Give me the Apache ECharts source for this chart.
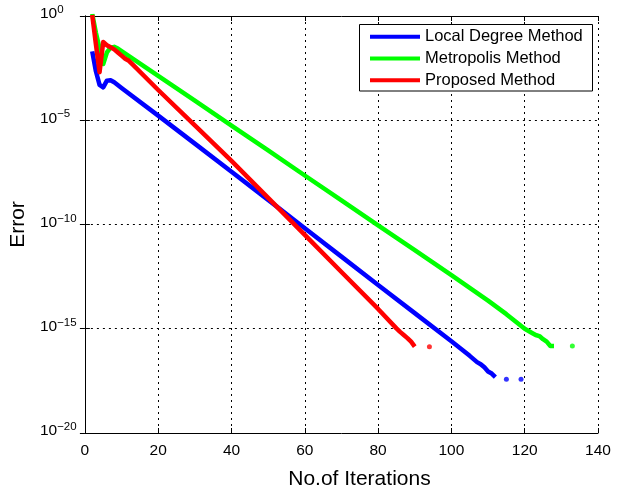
<!DOCTYPE html>
<html>
<head>
<meta charset="utf-8">
<script src="https://cdn.jsdelivr.net/npm/echarts@6/dist/echarts.min.js"></script>
<style>
html,body{margin:0;padding:0;background:#fff;}
#c{width:619px;height:496px;}
</style>
</head>
<body>
<div id="c"></div>
<script>
// ---- data (values are log10 of the error) ----
const seriesNames = ['Local Degree Method', 'Metropolis Method', 'Proposed Method'];
const xTicks = [0, 20, 40, 60, 80, 100, 120, 140];
const yTickExps = [0, -5, -10, -15, -20];

const localIter = [2,3,4,5,6,7,8,10,20,30,40,50,60,70,80,90,100,105,107,108,109,110,111,112];
const localExp  = [-1.7,-2.65,-3.3,-3.42,-3.1,-3.08,-3.18,-3.45,-4.78,-6.12,-7.47,-8.82,-10.18,-11.54,-12.9,-14.25,-15.6,-16.3,-16.6,-16.7,-16.85,-17.05,-17.15,-17.32];
const localDotIter = [115, 119];
const localDotExp  = [-17.42, -17.42];

const metroIter = [2,3,4,5,6,7,8,9,10,20,30,40,50,60,70,80,90,100,110,115,120,122,123,124,125,126,127,128];
const metroExp  = [0.1,-0.8,-1.55,-2.3,-1.75,-1.52,-1.48,-1.56,-1.68,-2.87,-4.06,-5.26,-6.45,-7.65,-8.84,-10.04,-11.23,-12.43,-13.65,-14.3,-15.0,-15.2,-15.3,-15.35,-15.5,-15.62,-15.83,-15.83];
const metroDotIter = [133];
const metroDotExp  = [-15.83];

const propIter = [2,3,4,5,6,7,8,9,10,11,12,13,20,30,40,50,60,70,80,85,86,87,88,89,90];
const propExp  = [0.05,-1.35,-2.7,-1.25,-1.4,-1.5,-1.6,-1.75,-1.9,-2.05,-2.15,-2.32,-3.55,-5.25,-6.95,-8.72,-10.5,-12.28,-14.05,-14.98,-15.15,-15.3,-15.45,-15.62,-15.86];
const propDotIter = [94];
const propDotExp  = [-15.86];

const colors = ['#0000ff', '#00ff00', '#ff0000'];
// ---------------------------------------------------------------

function pairs(xs, es) { return xs.map((x, i) => [x, Math.pow(10, es[i])]); }

const FONT = '"Liberation Sans", Arial, Helvetica, sans-serif';
const dashed = { type: [2, 4], color: '#000', width: 1 };

function lineSeries(name, xs, es, color) {
  return {
    name: name, type: 'line', data: pairs(xs, es),
    showSymbol: false, symbol: 'none', clip: true,
    lineStyle: { color: color, width: 4.5, cap: 'butt', join: 'round' },
    itemStyle: { color: color }, z: 3
  };
}
function dotSeries(name, xs, es, color) {
  return {
    name: name + ' ', type: 'scatter', data: pairs(xs, es),
    symbol: 'circle', symbolSize: 5, itemStyle: { color: color }, z: 3
  };
}

const chart = echarts.init(document.getElementById('c'), null, { renderer: 'canvas' });
chart.setOption({
  animation: false,
  backgroundColor: '#fff',
  textStyle: { fontFamily: FONT },
  grid: { left: 80, top: 16, right: 21, bottom: 63, containLabel: false, show: false },
  legend: {
    data: seriesNames,
    orient: 'vertical', left: 370, top: 26, padding: 0, itemGap: 0,
    itemWidth: 50, itemHeight: 4, icon: 'rect',
    textStyle: { fontFamily: FONT, fontSize: 16.5, color: '#000', lineHeight: 21.7 },
    selectedMode: false, z: 20
  },
  graphic: [{
    type: 'rect', z: 10,
    shape: { x: 359.5, y: 24.5, width: 233, height: 66.5 },
    style: { fill: '#fff', stroke: '#000', lineWidth: 1 }
  }],
  xAxis: [{
    type: 'value', min: xTicks[0], max: xTicks[xTicks.length - 1], interval: 20,
    name: 'No.of Iterations', nameLocation: 'middle', nameGap: 36,
    nameTextStyle: { fontFamily: FONT, fontSize: 21, color: '#000', padding: [0, 0, 0, 36] },
    axisLine: { show: true, lineStyle: { color: '#000', width: 1 } },
    axisTick: { show: true, inside: true, length: 5, lineStyle: { color: '#000' } },
    axisLabel: { fontFamily: FONT, fontSize: 15.5, color: '#000', margin: 10 },
    splitLine: { show: true, lineStyle: dashed }
  }, {
    type: 'value', position: 'top', min: xTicks[0], max: xTicks[xTicks.length - 1], interval: 20,
    axisLine: { show: true, lineStyle: { color: '#000', width: 1 } },
    axisTick: { show: true, inside: true, length: 5, lineStyle: { color: '#000' } },
    axisLabel: { show: false }, splitLine: { show: false }
  }],
  yAxis: [{
    type: 'log', logBase: 10, min: Math.pow(10, yTickExps[yTickExps.length - 1]), max: Math.pow(10, yTickExps[0]),
    interval: 5, splitNumber: 4,
    name: 'Error', nameLocation: 'middle', nameRotate: 90, nameGap: 50,
    nameTextStyle: { fontFamily: FONT, fontSize: 21, color: '#000' },
    axisLine: { show: true, lineStyle: { color: '#000', width: 1 } },
    axisTick: { show: true, inside: true, length: 5, lineStyle: { color: '#000' } },
    axisLabel: {
      align: 'left', margin: 45, padding: [0, 0, 4, 0],
      formatter: function (v) {
        const e = Math.round(Math.log10(v));
        return '{b|10}{s|' + (e < 0 ? '\u2212' + (-e) : e) + '}';
      },
      rich: {
        b: { fontFamily: FONT, fontSize: 15.5, color: '#000', lineHeight: 20 },
        s: { fontFamily: FONT, fontSize: 11.5, color: '#000', lineHeight: 11, verticalAlign: 'top' }
      }
    },
    splitLine: { show: true, lineStyle: dashed },
    minorTick: { show: false }, minorSplitLine: { show: false }
  }, {
    type: 'log', logBase: 10, position: 'right',
    min: Math.pow(10, yTickExps[yTickExps.length - 1]), max: Math.pow(10, yTickExps[0]),
    interval: 5, splitNumber: 4,
    axisLine: { show: true, lineStyle: { color: '#000', width: 1 } },
    axisTick: { show: true, inside: true, length: 5, lineStyle: { color: '#000' } },
    axisLabel: { show: false }, splitLine: { show: false }
  }],
  series: [
    lineSeries(seriesNames[0], localIter, localExp, colors[0]),
    lineSeries(seriesNames[1], metroIter, metroExp, colors[1]),
    lineSeries(seriesNames[2], propIter, propExp, colors[2]),
    dotSeries(seriesNames[0], localDotIter, localDotExp, colors[0]),
    dotSeries(seriesNames[1], metroDotIter, metroDotExp, colors[1]),
    dotSeries(seriesNames[2], propDotIter, propDotExp, colors[2])
  ]
});
</script>
</body>
</html>
